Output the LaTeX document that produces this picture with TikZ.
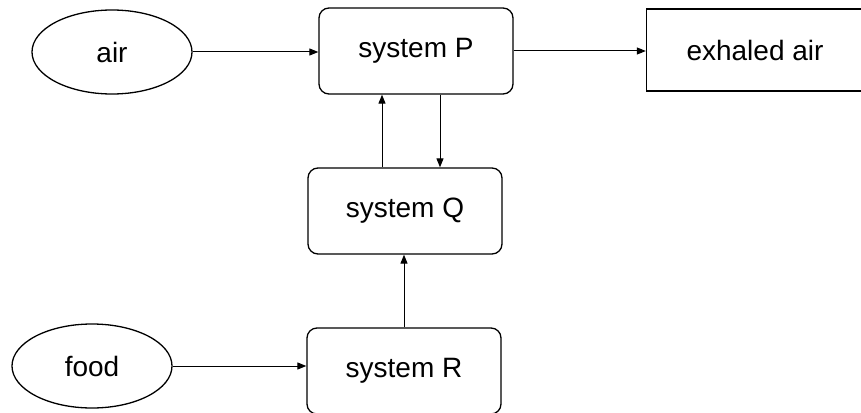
\documentclass[tikz,border=0pt]{standalone}
\usepackage{fontspec}
\setmainfont{Liberation Sans}
\usetikzlibrary{arrows.meta,shapes.geometric}

\begin{document}
\begin{tikzpicture}[x=1pt,y=-1pt,
    sysbox/.style={draw,line width=1.3pt,rounded corners=10pt,minimum width=194pt,minimum height=86pt},
    inout/.style={draw,ellipse,line width=1.3pt,minimum width=160pt,minimum height=84pt},
    outbox/.style={draw,line width=1.3pt,minimum width=217pt,minimum height=82pt},
    flow/.style={line width=1pt,-{Triangle[length=9pt,width=7pt]}}]
  \clip (0,0) rectangle (861,412);
  \fontsize{28}{34}\selectfont
  \node[inout] (air) at (112,52) {air};
  \node[inout] (food) at (92,366) {food};
  \node[sysbox] (P) at (416,51) {system P};
  \node[sysbox] (Q) at (405,211) {system Q};
  \node[sysbox] (R) at (404,371) {system R};
  \node[outbox] (exh) at (755,50) {exhaled air};
  \draw[flow] (air.east) -- (air.east -| P.west);
  \draw[flow] (P.east) -- (P.east -| exh.west);
  \draw[flow] (Q.north -| 382,0) -- (P.south -| 382,0);
  \draw[flow] (P.south -| 440,0) -- (Q.north -| 440,0);
  \draw[flow] (R.north) -- (R.north |- Q.south);
  \draw[flow] (food.east) -- (food.east -| R.west);
\end{tikzpicture}
\end{document}
